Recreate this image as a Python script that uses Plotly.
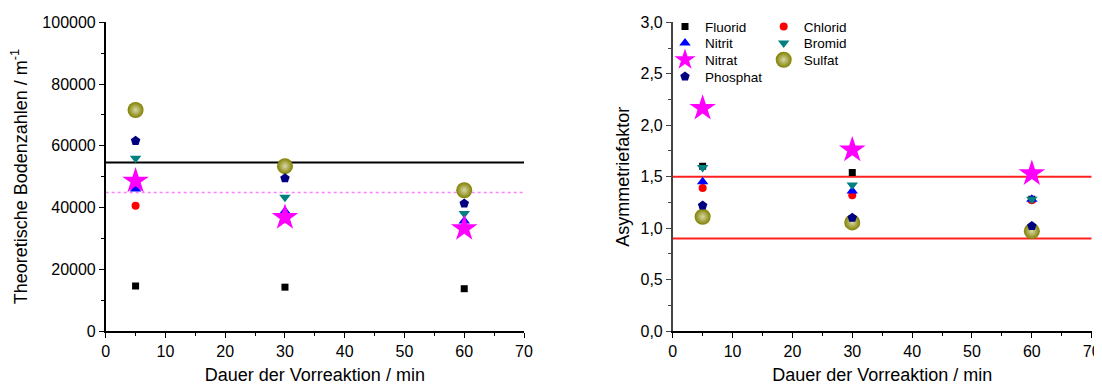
import plotly.graph_objects as go

# ---- data ----
dauer = [5, 30, 60]

names = ["Fluorid", "Chlorid", "Nitrit", "Bromid", "Nitrat", "Sulfat", "Phosphat"]

boden = {
    "Fluorid":  [14600, 14200, 13700],
    "Chlorid":  [40600, 36200, 33000],
    "Nitrit":   [46000, 38800, 35600],
    "Bromid":   [56000, 43300, 38100],
    "Nitrat":   [48600, 36800, 33200],
    "Sulfat":   [71600, 53400, 45600],
    "Phosphat": [61600, 49500, 41300],
}

asym = {
    "Fluorid":  [1.60, 1.54, 1.28],
    "Chlorid":  [1.39, 1.32, 1.27],
    "Nitrit":   [1.45, 1.36, 1.28],
    "Bromid":   [1.59, 1.42, 1.28],
    "Nitrat":   [2.165, 1.76, 1.53],
    "Sulfat":   [1.11, 1.055, 0.97],
    "Phosphat": [1.22, 1.10, 1.02],
}

boden_ref_black = 54600
boden_ref_magenta = 44900
asym_limits = [1.5, 0.9]
x_line = [0, 70]

styles = {
    "Fluorid":  dict(symbol="square", color="#000000", size=7),
    "Chlorid":  dict(symbol="circle", color="#FF0000", size=8),
    "Nitrit":   dict(symbol="triangle-up", color="#0000FF", size=10),
    "Bromid":   dict(symbol="triangle-down", color="#008080", size=10),
    "Nitrat":   dict(symbol="star", color="#FF00FF", size=20),
    "Sulfat":   dict(symbol="circle", color="#808000", size=16),
    "Phosphat": dict(symbol="pentagon", color="#000080", size=10),
}
# legend slot: (legend id, x of legend box in window px, y of row centre in window px)
legend_pos = {
    "Fluorid":  ("legend",  665, 26.7),
    "Nitrit":   ("legend2", 665, 43.3),
    "Nitrat":   ("legend3", 665, 60.0),
    "Phosphat": ("legend4", 665, 76.7),
    "Chlorid":  ("legend5", 763.7, 26.7),
    "Bromid":   ("legend6", 763.7, 43.3),
    "Sulfat":   ("legend7", 763.7, 60.0),
}

OFF = 8  # page body margin
W, H = 1102 - OFF, 385 - OFF


def fx(px):
    return (px - OFF) / W


def fy(py):
    return 1 - (py - OFF) / H


font = "Liberation Sans, Arial, sans-serif"

fig = go.Figure()

# reference lines (left)
fig.add_trace(go.Scatter(x=x_line, y=[boden_ref_black] * 2, mode="lines",
                         line=dict(color="black", width=2), showlegend=False,
                         xaxis="x", yaxis="y", hoverinfo="skip"))
fig.add_trace(go.Scatter(x=x_line, y=[boden_ref_magenta] * 2, mode="lines",
                         line=dict(color="#FF80FF", width=1.5, dash="dot"), showlegend=False,
                         xaxis="x", yaxis="y", hoverinfo="skip"))
# limit lines (right)
for v in asym_limits:
    fig.add_trace(go.Scatter(x=x_line, y=[v, v], mode="lines",
                             line=dict(color="#FF2020", width=2), showlegend=False,
                             xaxis="x2", yaxis="y2", hoverinfo="skip"))

for n in names:
    s = styles[n]
    marker = dict(symbol=s["symbol"], color=s["color"], size=s["size"], line=dict(width=0))
    if n == "Sulfat":
        marker["gradient"] = dict(type="radial", color="#D8D8A8")
    fig.add_trace(go.Scatter(x=dauer, y=boden[n], mode="markers", marker=marker,
                             name=n, showlegend=False, xaxis="x", yaxis="y"))
    fig.add_trace(go.Scatter(x=dauer, y=asym[n], mode="markers", marker=marker,
                             name=n, showlegend=True, legend=legend_pos[n][0],
                             xaxis="x2", yaxis="y2"))

tickfont = dict(family=font, size=16, color="black")
titlefont = dict(family=font, size=18, color="black")

xcommon = dict(range=[0, 70], dtick=10, tick0=0, ticks="outside", ticklen=5, tickwidth=1.2,
               showline=True, linecolor="black", linewidth=1.5, showgrid=False, zeroline=False,
               tickfont=tickfont, tickcolor="black", automargin=False,
               minor=dict(ticks="outside", ticklen=3, dtick=5, tickcolor="black", showgrid=False),
               title=dict(text="Dauer der Vorreaktion / min", font=titlefont, standoff=10))

ydom = [fy(331), fy(22.3)]

legends = {}
for n, (lid, lx, ly) in legend_pos.items():
    legends[lid] = dict(x=fx(lx), y=fy(ly), xanchor="left", yanchor="middle",
                        bgcolor="rgba(0,0,0,0)", borderwidth=0,
                        font=dict(family=font, size=13.5, color="black"),
                        itemsizing="trace")

fig.update_layout(
    width=W, height=H,
    margin=dict(l=0, r=0, t=0, b=0, autoexpand=False),
    paper_bgcolor="white", plot_bgcolor="white",
    separators=",.",
    font=dict(family=font, color="black"),
    xaxis=dict(domain=[fx(105.7), fx(524)], anchor="y", **xcommon),
    xaxis2=dict(domain=[fx(672.7), fx(1091.7)], anchor="y2", **xcommon),
    yaxis=dict(domain=ydom, anchor="x", range=[0, 100000], dtick=20000, tickformat="d",
               ticks="outside", ticklen=5, tickwidth=1.2, tickcolor="black", automargin=False,
               showline=True, linecolor="black", linewidth=1.5, showgrid=False, zeroline=False,
               tickfont=tickfont,
               minor=dict(ticks="outside", ticklen=3, dtick=10000, tickcolor="black", showgrid=False),
               title=dict(text="Theoretische Bodenzahlen / m<sup>-1</sup>", font=titlefont, standoff=12)),
    yaxis2=dict(domain=ydom, anchor="x2", range=[0, 3], dtick=0.5, tickformat=".1f",
                ticks="outside", ticklen=5, tickwidth=1.2, tickcolor="#444444", automargin=False,
                showline=True, linecolor="#444444", linewidth=1.5, showgrid=False, zeroline=False,
                tickfont=tickfont,
                minor=dict(ticks="outside", ticklen=3, dtick=0.25, tickcolor="#444444", showgrid=False),
                title=dict(text="Asymmetriefaktor", font=titlefont, standoff=6)),
    **legends,
)

fig.write_html("out.html")
